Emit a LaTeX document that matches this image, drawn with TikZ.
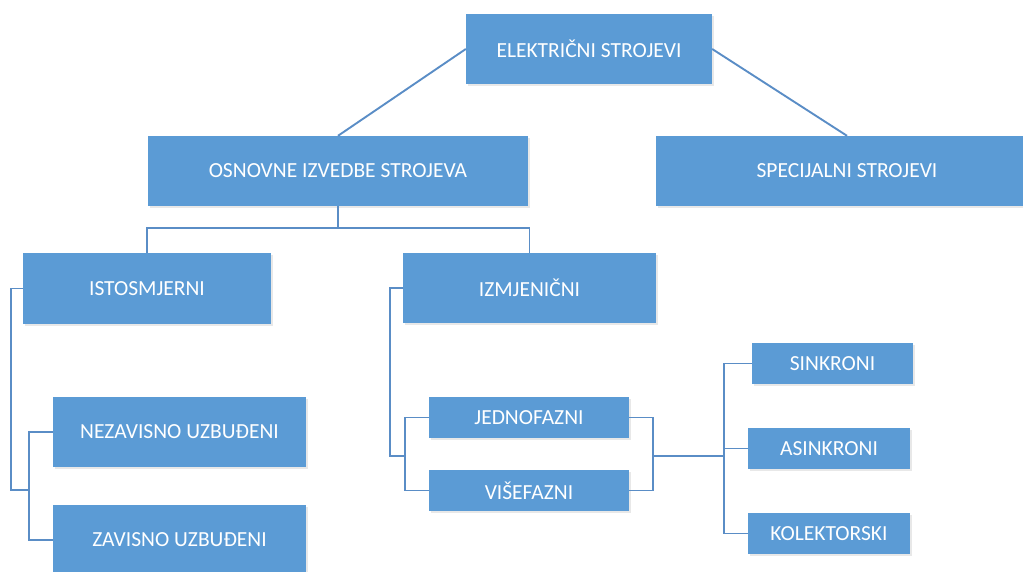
\documentclass[tikz,border=0pt]{standalone}
\usepackage{fontspec}
\setmainfont{Carlito}
\usetikzlibrary{shadows}
\definecolor{boxblue}{HTML}{5B9BD5}
\definecolor{lineblue}{HTML}{5A8DC6}
\tikzset{
  box/.style={rectangle, fill=boxblue, text=white, inner sep=0pt,
    font=\fontsize{21.5}{24}\selectfont,
    drop shadow={opacity=0.15, shadow xshift=1.5pt, shadow yshift=-2pt, fill=black!60}},
  conn/.style={draw=lineblue, line width=1.9pt}
}
\begin{document}
\begin{tikzpicture}[x=1pt,y=-1pt]
\useasboundingbox (0,0) rectangle (1023,571);
\node[box, minimum width=246pt, minimum height=70pt] (elek) at (589,49) {ELEKTRIČNI STROJEVI};
\node[box, minimum width=380pt, minimum height=70pt] (osn) at (338,171) {OSNOVNE IZVEDBE STROJEVA};
\node[box, minimum width=382pt, minimum height=70pt] (spec) at (847,171) {SPECIJALNI STROJEVI};
\node[box, minimum width=248pt, minimum height=71pt] (isto) at (147,288.5) {ISTOSMJERNI};
\node[box, minimum width=253pt, minimum height=70pt] (izmj) at (529.5,288) {IZMJENIČNI};
\node[box, minimum width=253pt, minimum height=70pt] (nez) at (179.5,432) {NEZAVISNO UZBUĐENI};
\node[box, minimum width=253pt, minimum height=70pt] (zav) at (179.5,540) {ZAVISNO UZBUĐENI};
\node[box, minimum width=200pt, minimum height=41pt] (jedno) at (529,417.5) {JEDNOFAZNI};
\node[box, minimum width=200pt, minimum height=41pt] (vise) at (529,490.5) {VIŠEFAZNI};
\node[box, minimum width=161pt, minimum height=41pt] (sink) at (832.5,363.5) {SINKRONI};
\node[box, minimum width=162pt, minimum height=41pt] (asink) at (829,448.5) {ASINKRONI};
\node[box, minimum width=162pt, minimum height=41pt] (kol) at (829,533.5) {KOLEKTORSKI};

\coordinate (b1) at (338,228);
\coordinate (ib) at (29,490);
\coordinate (zb) at (405,456);
\coordinate (rb) at (653,456);
\coordinate (kb) at (724,456);

\draw[conn] (elek.west) -- (osn.north);
\draw[conn] (elek.east) -- (spec.north);
\draw[conn] (osn.south) -- (b1);
\draw[conn] (isto.north) |- (b1) -| (izmj.north);
\draw[conn] (isto.west) -- ++(-12,0) |- (ib);
\draw[conn] (nez.west) -| (ib) |- (zav.west);
\draw[conn] (izmj.west) -- ++(-13,0) |- (zb);
\draw[conn] (jedno.west) -| (zb) |- (vise.west);
\draw[conn] (jedno.east) -| (rb) |- (vise.east);
\draw[conn] (rb) -- (kb);
\draw[conn] (sink.west) -| (kb) |- (kol.west);
\draw[conn] (asink.west) -- (asink.west -| kb);
\end{tikzpicture}
\end{document}
